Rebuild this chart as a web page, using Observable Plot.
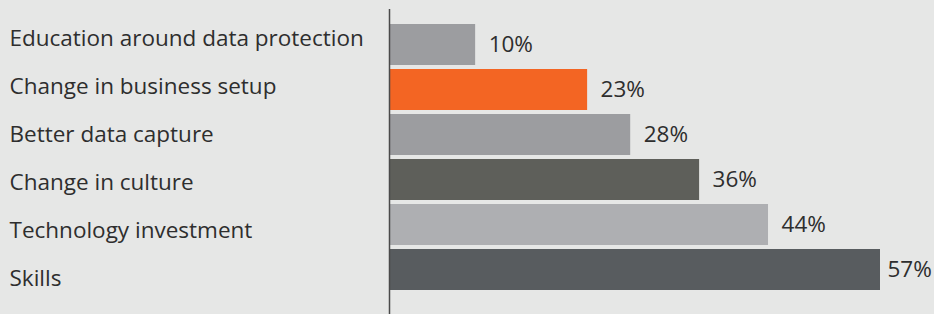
<!DOCTYPE html>
<html>
<head>
<meta charset="utf-8">
<script src="https://cdn.jsdelivr.net/npm/d3@7"></script>
<script src="https://cdn.jsdelivr.net/npm/@observablehq/plot@0.6"></script>
<style>
  html, body { margin: 0; padding: 0; background: #e6e7e6; }
  #chart { position: relative; width: 934px; height: 314px; background: #e6e7e6; overflow: hidden; }
  #chart svg { position: absolute; left: 0; top: 0; background: transparent; }
</style>
</head>
<body>
<div id="chart"></div>
<script>
const categories = [
  "Education around data protection",
  "Change in business setup",
  "Better data capture",
  "Change in culture",
  "Technology investment",
  "Skills"
];
const values = [10, 23, 28, 36, 44, 57];
const colors = ["#9c9da0", "#f36523", "#9c9da0", "#5e5f5a", "#aeafb2", "#585c5f"];

const data = categories.map((label, i) => ({label, value: values[i], color: colors[i]}));

const FONT = "'Open Sans', sans-serif";
const FS = 22.5;
const TEXT = "#2e2e2e";

const main = Plot.plot({
  width: 934,
  height: 314,
  marginLeft: 389,
  marginRight: 54,
  marginTop: 9,
  marginBottom: 0,
  style: {background: "transparent", fontFamily: FONT},
  x: {domain: [0, 57], axis: null},
  y: {domain: categories, range: [22, 292], paddingInner: 0.089, paddingOuter: 0.0445, axis: null},
  color: {type: "identity"},
  marks: [
    Plot.barX(data, {x: "value", y: "label", fill: "color"}),
    Plot.ruleX([0], {stroke: "#4a4a4a", strokeWidth: 1.5}),
    Plot.text(data.filter(d => d.value !== 57), {x: "value", y: "label", text: d => d.value + "%", textAnchor: "start", dx: 13, fontSize: FS, fill: TEXT}),
    Plot.text(data.filter(d => d.value === 57), {x: "value", y: "label", text: d => d.value + "%", textAnchor: "start", dx: 7, fontSize: FS, fill: TEXT})
  ]
});

const labels = Plot.plot({
  width: 388,
  height: 314,
  margin: 0,
  style: {background: "transparent", fontFamily: FONT},
  y: {type: "point", domain: categories, range: [37.5, 277.5], padding: 0, axis: null},
  x: {axis: null},
  marks: [
    Plot.text(data, {y: "label", text: "label", frameAnchor: "left", textAnchor: "start", dx: 9, fontSize: FS, fill: TEXT})
  ]
});

const el = document.getElementById("chart");
el.appendChild(main);
el.appendChild(labels);
</script>
</body>
</html>
